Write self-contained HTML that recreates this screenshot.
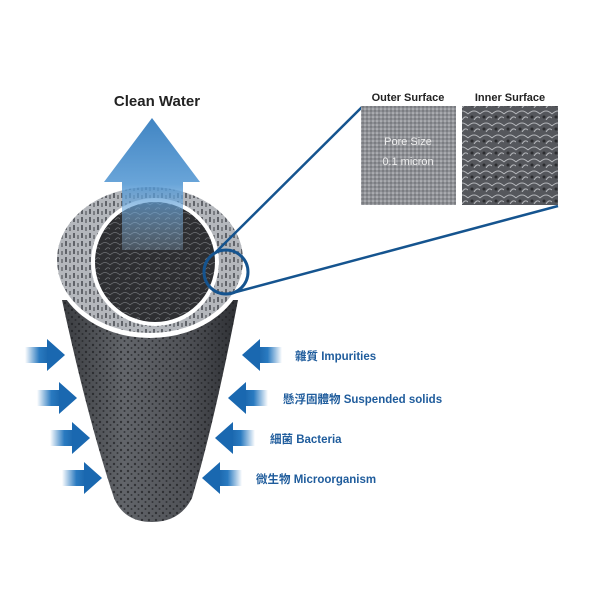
<!DOCTYPE html>
<html><head><meta charset="utf-8"><style>
html,body{margin:0;padding:0;background:#fff;width:600px;height:600px;overflow:hidden}
</style></head><body>
<svg width="600" height="600" viewBox="0 0 600 600" xmlns="http://www.w3.org/2000/svg">
<defs>
<linearGradient id="cone" x1="0" x2="1" y1="0" y2="0">
<stop offset="0" stop-color="#3a3c40"/><stop offset="0.35" stop-color="#62656a"/><stop offset="0.7" stop-color="#505257"/><stop offset="1" stop-color="#2e3034"/></linearGradient>
<pattern id="dots" width="7" height="7" patternUnits="userSpaceOnUse">
<circle cx="2" cy="2" r="1.2" fill="#1e1f22"/><circle cx="5.5" cy="5" r="1" fill="#222326"/></pattern>
<pattern id="ringp" width="8" height="8" patternUnits="userSpaceOnUse">
<rect width="8" height="8" fill="#b4b7bc"/><rect x="1" y="1" width="2" height="5" fill="#606369"/><rect x="5" y="3" width="2" height="4" fill="#7a7d82"/></pattern>
<pattern id="inner" width="10" height="10" patternUnits="userSpaceOnUse">
<rect width="10" height="10" fill="#2e2f32"/><path d="M0 5 Q5 0 10 5 M5 10 Q8 6 10 9" stroke="#707276" stroke-width="0.8" fill="none"/></pattern>
<pattern id="outerS" width="4" height="4" patternUnits="userSpaceOnUse">
<rect width="4" height="4" fill="#8f9196"/><circle cx="1" cy="1" r="0.8" fill="#c8c9cc"/><circle cx="3" cy="3" r="0.7" fill="#5c5e62"/></pattern>
<pattern id="innerS" width="12" height="12" patternUnits="userSpaceOnUse">
<rect width="12" height="12" fill="#55575c"/><path d="M0 6 Q6 0 12 6 M6 12 Q9 7 12 10" stroke="#b4b6ba" stroke-width="1" fill="none"/><circle cx="4" cy="9" r="1.5" fill="#2c2d30"/></pattern>
<linearGradient id="upg" x1="0" x2="0" y1="0" y2="1">
<stop offset="0" stop-color="#1f6fb8"/><stop offset="0.5" stop-color="#4f95d2"/><stop offset="1" stop-color="#9cc6ea" stop-opacity="0.3"/></linearGradient>
<linearGradient id="ar" x1="0" x2="1"><stop offset="0" stop-color="#2a7ac0" stop-opacity="0"/><stop offset="0.55" stop-color="#2a7ac0"/><stop offset="1" stop-color="#1762a8"/></linearGradient>
<linearGradient id="al" x1="1" x2="0"><stop offset="0" stop-color="#2a7ac0" stop-opacity="0"/><stop offset="0.55" stop-color="#2a7ac0"/><stop offset="1" stop-color="#1762a8"/></linearGradient>
<g id="ra"><rect x="0" y="-8" width="26" height="16" fill="url(#ar)"/><polygon points="22,-16 40,0 22,16" fill="#1a68b0"/></g>
<g id="la"><rect x="14" y="-8" width="26" height="16" fill="url(#al)"/><polygon points="18,-16 0,0 18,16" fill="#1a68b0"/></g>
</defs>

<path d="M62 300 L238 300 Q215 420 192 498 Q180 522 152 522 Q124 522 114 498 Q88 420 62 300 Z" fill="url(#cone)"/>
<path d="M62 300 L238 300 Q215 420 192 498 Q180 522 152 522 Q124 522 114 498 Q88 420 62 300 Z" fill="url(#dots)" opacity="0.7"/>
<ellipse cx="150" cy="262" rx="96" ry="76" fill="#fff"/>
<ellipse cx="150" cy="260" rx="93" ry="73" fill="url(#ringp)"/>
<circle cx="155" cy="262" r="64" fill="#fff"/>
<circle cx="155" cy="262" r="60" fill="url(#inner)"/>
<polygon points="152,118 200,182 183,182 183,250 122,250 122,182 104,182" fill="url(#upg)" opacity="0.85"/>

<line x1="216" y1="252" x2="362" y2="107" stroke="#15548f" stroke-width="2.5"/>
<line x1="236" y1="292" x2="558" y2="206" stroke="#15548f" stroke-width="2.5"/>
<circle cx="226" cy="272" r="22" fill="none" stroke="#15548f" stroke-width="3"/>

<rect x="361" y="106" width="95" height="99" fill="url(#outerS)"/>
<rect x="462" y="106" width="96" height="99" fill="url(#innerS)"/>
<g font-family="Liberation Sans, sans-serif" font-size="11" font-weight="bold" fill="#222">
<text x="408" y="101" text-anchor="middle">Outer Surface</text>
<text x="510" y="101" text-anchor="middle">Inner Surface</text>
</g>
<g font-family="Liberation Sans, sans-serif" font-size="11" fill="#eee" text-anchor="middle">
<text x="408" y="145">Pore Size</text>
<text x="408" y="165">0.1 micron</text>
</g>
<text x="157" y="106" font-family="Liberation Sans, sans-serif" font-size="15" font-weight="bold" fill="#222" text-anchor="middle">Clean Water</text>

<use href="#ra" x="25" y="355"/>
<use href="#ra" x="37" y="398"/>
<use href="#ra" x="50" y="438"/>
<use href="#ra" x="62" y="478"/>
<use href="#la" x="242" y="355"/>
<use href="#la" x="228" y="398"/>
<use href="#la" x="215" y="438"/>
<use href="#la" x="202" y="478"/>

<g font-family="Liberation Sans, 'Noto Sans CJK TC', sans-serif" font-size="11.5" font-weight="bold" fill="#1f5c9c" xml:space="preserve">
<text x="295" y="360">雜質  Impurities</text>
<text x="283" y="403">懸浮固體物  Suspended solids</text>
<text x="270" y="443">細菌   Bacteria</text>
<text x="256" y="483">微生物  Microorganism</text>
</g>
</svg>
</body></html>
